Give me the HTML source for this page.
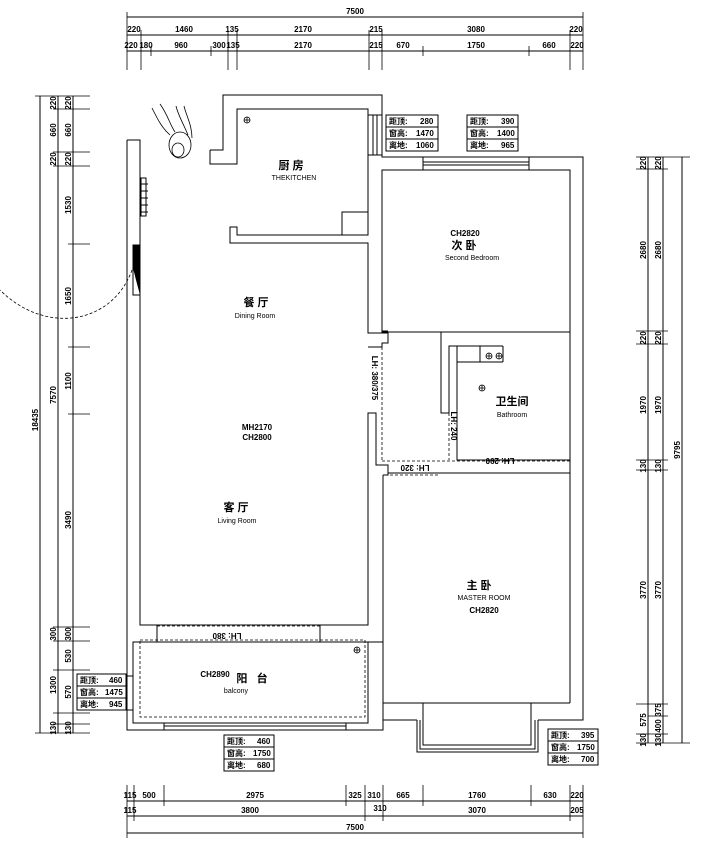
<!DOCTYPE html>
<html><head><meta charset="utf-8"><style>
html,body{margin:0;padding:0;background:#fff;}
svg{display:block;}
text{font-family:"Liberation Sans","Noto Sans CJK SC",sans-serif;fill:#000;}
.d{font-size:8px;font-weight:bold;}
.s{font-size:7px;}
</style></head><body>
<svg width="724" height="857" viewBox="0 0 724 857" xmlns="http://www.w3.org/2000/svg">
<g stroke="#000" stroke-width="1" fill="none">
<!-- top dims -->
<line x1="127" y1="17" x2="583" y2="17"/>
<line x1="127" y1="35" x2="583" y2="35"/>
<line x1="127" y1="51" x2="583" y2="51"/>
<g stroke-width="0.8">
<line x1="127" y1="12" x2="127" y2="70"/><line x1="583" y1="12" x2="583" y2="70"/>
<line x1="141" y1="30" x2="141" y2="70"/><line x1="228" y1="30" x2="228" y2="70"/><line x1="237" y1="30" x2="237" y2="70"/>
<line x1="369" y1="30" x2="369" y2="70"/><line x1="382" y1="30" x2="382" y2="70"/><line x1="570" y1="30" x2="570" y2="70"/>
<line x1="151" y1="46" x2="151" y2="56"/><line x1="211" y1="46" x2="211" y2="56"/><line x1="423" y1="46" x2="423" y2="56"/><line x1="529" y1="46" x2="529" y2="56"/>
</g>
<!-- bottom dims -->
<line x1="127" y1="801" x2="583" y2="801"/>
<line x1="127" y1="816" x2="583" y2="816"/>
<line x1="127" y1="833" x2="583" y2="833"/>
<g stroke-width="0.8">
<line x1="127" y1="785" x2="127" y2="838"/><line x1="583" y1="785" x2="583" y2="838"/>
<line x1="134" y1="785" x2="134" y2="821"/><line x1="365" y1="785" x2="365" y2="821"/><line x1="383" y1="785" x2="383" y2="821"/><line x1="570" y1="785" x2="570" y2="821"/>
<line x1="164" y1="785" x2="164" y2="806"/><line x1="346" y1="785" x2="346" y2="806"/><line x1="423" y1="785" x2="423" y2="806"/><line x1="531" y1="785" x2="531" y2="806"/>
</g>
<!-- left dims -->
<line x1="40" y1="96" x2="40" y2="733"/>
<line x1="58" y1="96" x2="58" y2="733"/>
<line x1="73" y1="96" x2="73" y2="733"/>
<g stroke-width="0.8">
<line x1="35" y1="96" x2="90" y2="96"/><line x1="35" y1="733" x2="90" y2="733"/>
<line x1="53" y1="109" x2="90" y2="109"/><line x1="53" y1="152" x2="90" y2="152"/><line x1="53" y1="166" x2="90" y2="166"/>
<line x1="68" y1="244" x2="90" y2="244"/><line x1="68" y1="347" x2="90" y2="347"/><line x1="68" y1="414" x2="90" y2="414"/>
<line x1="53" y1="627" x2="90" y2="627"/><line x1="53" y1="641" x2="90" y2="641"/><line x1="53" y1="670" x2="90" y2="670"/><line x1="53" y1="713" x2="90" y2="713"/><line x1="53" y1="724" x2="90" y2="724"/>
</g>
<!-- right dims -->
<line x1="648" y1="157" x2="648" y2="743"/>
<line x1="663" y1="157" x2="663" y2="743"/>
<line x1="682" y1="157" x2="682" y2="743"/>
<g stroke-width="0.8">
<line x1="636" y1="157" x2="690" y2="157"/><line x1="636" y1="743" x2="690" y2="743"/>
<line x1="636" y1="169" x2="668" y2="169"/><line x1="636" y1="331" x2="668" y2="331"/><line x1="636" y1="344" x2="668" y2="344"/>
<line x1="636" y1="460" x2="668" y2="460"/><line x1="636" y1="470" x2="668" y2="470"/><line x1="636" y1="704" x2="668" y2="704"/>
<line x1="648" y1="716" x2="668" y2="716"/><line x1="636" y1="734" x2="668" y2="734"/>
</g>

<!-- walls: left outer -->
<polyline points="127,140 127,730 383,730 383,475"/>
<polyline points="127,140 140,140 140,150 140,625 368,625 368,413 376,413 376,465 388,465 388,475 383,475"/>
<!-- kitchen -->
<polyline points="210,150 223,150 223,95 380,95 382,95 382,157 583,157 583,720 570,720"/>
<polyline points="210,150 210,164 237,164 237,109 368,109 368,235 237,235 237,227 230,227 230,243 368,243 368,333 388,333 388,343 382,343 382,347 368,347"/>
<rect x="368" y="115" width="14" height="40"/>
<line x1="373" y1="115" x2="373" y2="155"/><line x1="377" y1="115" x2="377" y2="155"/>
<rect x="342" y="212" width="26" height="23"/>
<!-- second bedroom -->
<polyline points="382,170 382,331 388,331"/>
<rect x="382" y="170" width="188" height="162"/>
<rect x="423" y="157" width="106" height="13"/>
<line x1="423" y1="162" x2="529" y2="162"/><line x1="423" y1="165" x2="529" y2="165"/>
<line x1="570" y1="170" x2="570" y2="703"/>
<!-- bathroom -->
<polyline points="570,332 441,332 441,346 441,413 449,413 449,346 457,346 457,460 570,460"/>
<rect x="457" y="346" width="23" height="16"/>
<line x1="480" y1="346" x2="503" y2="346"/><line x1="503" y1="346" x2="503" y2="362"/><line x1="480" y1="362" x2="503" y2="362"/>
<!-- master -->
<polyline points="383,475 388,475 388,473 570,473"/>
<polyline points="383,475 383,703 570,703"/>
<polyline points="423,703 423,745 531,745 531,703"/>
<polyline points="417,720 417,752 538,752 538,720"/>
<polyline points="420,720 420,749 535,749 535,720"/>
<line x1="383" y1="720" x2="417" y2="720"/><line x1="538" y1="720" x2="570" y2="720"/>
<!-- balcony -->
<polyline points="157,625 157,642"/><polyline points="320,625 320,642"/>
<rect x="133" y="642" width="235" height="81"/>
<line x1="368" y1="642" x2="383" y2="642"/>
<rect x="164" y="723" width="182" height="7"/>
<line x1="164" y1="726" x2="346" y2="726"/>
<rect x="127" y="676" width="6" height="34"/>
<!-- radiator -->
<rect x="141" y="178" width="5" height="38"/>
<line x1="140" y1="184" x2="148" y2="184"/><line x1="140" y1="191" x2="148" y2="191"/><line x1="140" y1="198" x2="148" y2="198"/><line x1="140" y1="205" x2="148" y2="205"/><line x1="140" y1="212" x2="148" y2="212"/>
<!-- door -->
<rect x="133" y="245" width="7" height="50"/>
</g>
<polygon points="133,245 140,245 140,295 136,280 133,268" fill="#000"/>
<!-- dashed -->
<g stroke="#000" stroke-width="0.8" fill="none" stroke-dasharray="3,2">
<path d="M132,270 C112,325 45,335 0,290"/>
<line x1="382" y1="347" x2="382" y2="460"/>
<line x1="382" y1="461" x2="570" y2="461"/>
<line x1="390" y1="475" x2="440" y2="475"/>
<line x1="449" y1="413" x2="449" y2="460"/>
<line x1="457" y1="362" x2="457" y2="460"/>
<rect x="140" y="640" width="225" height="77"/>
<line x1="157" y1="626" x2="320" y2="626"/>
</g>
<!-- fixtures -->
<g stroke="#000" stroke-width="0.8" fill="none">
<circle cx="247" cy="120" r="3"/><line x1="244" y1="120" x2="250" y2="120"/><line x1="247" y1="117" x2="247" y2="123"/>
<circle cx="489" cy="356" r="3"/><line x1="486" y1="356" x2="492" y2="356"/><line x1="489" y1="353" x2="489" y2="359"/>
<circle cx="499" cy="356" r="3"/><line x1="496" y1="356" x2="502" y2="356"/><line x1="499" y1="353" x2="499" y2="359"/>
<circle cx="482" cy="388" r="3"/><line x1="479" y1="388" x2="485" y2="388"/><line x1="482" y1="385" x2="482" y2="391"/>
<circle cx="357" cy="650" r="3"/><line x1="354" y1="650" x2="360" y2="650"/><line x1="357" y1="647" x2="357" y2="653"/>
<!-- person -->
<ellipse cx="180" cy="145" rx="11" ry="13"/>
<ellipse cx="178" cy="150" rx="6" ry="7"/>
<path d="M152,108 C158,120 162,128 170,135"/><path d="M160,104 C168,115 170,125 175,132"/>
<path d="M176,106 C178,115 184,125 188,135"/><path d="M184,106 C186,115 192,125 192,138"/>
</g>
<!-- info boxes -->
<g stroke="#000" stroke-width="1" fill="#fff">
<rect x="386" y="115" width="52" height="36"/><line x1="386" y1="127" x2="438" y2="127"/><line x1="386" y1="139" x2="438" y2="139"/>
<rect x="467" y="115" width="51" height="36"/><line x1="467" y1="127" x2="518" y2="127"/><line x1="467" y1="139" x2="518" y2="139"/>
<rect x="77" y="674" width="49" height="36"/><line x1="77" y1="686" x2="126" y2="686"/><line x1="77" y1="698" x2="126" y2="698"/>
<rect x="224" y="735" width="50" height="36"/><line x1="224" y1="747" x2="274" y2="747"/><line x1="224" y1="759" x2="274" y2="759"/>
<rect x="548" y="729" width="50" height="36"/><line x1="548" y1="741" x2="598" y2="741"/><line x1="548" y1="753" x2="598" y2="753"/>
</g>
<g class="d" font-size="8">
<text x="389" y="124" class="d">距顶: <tspan x="420">280</tspan></text>
<text x="389" y="136" class="d">窗高: <tspan x="416">1470</tspan></text>
<text x="389" y="148" class="d">离地: <tspan x="416">1060</tspan></text>
<text x="470" y="124" class="d">距顶: <tspan x="501">390</tspan></text>
<text x="470" y="136" class="d">窗高: <tspan x="497">1400</tspan></text>
<text x="470" y="148" class="d">离地: <tspan x="501">965</tspan></text>
<text x="80" y="683" class="d">距顶: <tspan x="109">460</tspan></text>
<text x="80" y="695" class="d">窗高: <tspan x="105">1475</tspan></text>
<text x="80" y="707" class="d">离地: <tspan x="109">945</tspan></text>
<text x="227" y="744" class="d">距顶: <tspan x="257">460</tspan></text>
<text x="227" y="756" class="d">窗高: <tspan x="253">1750</tspan></text>
<text x="227" y="768" class="d">离地: <tspan x="257">680</tspan></text>
<text x="551" y="738" class="d">距顶: <tspan x="581">395</tspan></text>
<text x="551" y="750" class="d">窗高: <tspan x="577">1750</tspan></text>
<text x="551" y="762" class="d">离地: <tspan x="581">700</tspan></text>
</g>
<!-- dim texts -->
<g class="d" text-anchor="middle">
<text x="355" y="14">7500</text>
<text x="134" y="32">220</text><text x="184" y="32">1460</text><text x="232" y="32">135</text><text x="303" y="32">2170</text><text x="376" y="32">215</text><text x="476" y="32">3080</text><text x="576" y="32">220</text>
<text x="131" y="48">220</text><text x="146" y="48">180</text><text x="181" y="48">960</text><text x="219" y="48">300</text><text x="233" y="48">135</text><text x="303" y="48">2170</text><text x="376" y="48">215</text><text x="403" y="48">670</text><text x="476" y="48">1750</text><text x="549" y="48">660</text><text x="577" y="48">220</text>
<text x="130" y="798">115</text><text x="149" y="798">500</text><text x="255" y="798">2975</text><text x="355" y="798">325</text><text x="374" y="798">310</text><text x="403" y="798">665</text><text x="477" y="798">1760</text><text x="550" y="798">630</text><text x="577" y="798">220</text>
<text x="130" y="813">115</text><text x="250" y="813">3800</text><text x="380" y="811">310</text><text x="477" y="813">3070</text><text x="577" y="813">205</text>
<text x="355" y="830">7500</text>
</g>
<g class="d" text-anchor="middle">
<text transform="translate(38,420) rotate(-90)">18435</text>
<text transform="translate(56,395) rotate(-90)">7570</text>
<text transform="translate(56,103) rotate(-90)">220</text><text transform="translate(71,103) rotate(-90)">220</text>
<text transform="translate(56,130) rotate(-90)">660</text><text transform="translate(71,130) rotate(-90)">660</text>
<text transform="translate(56,159) rotate(-90)">220</text><text transform="translate(71,159) rotate(-90)">220</text>
<text transform="translate(71,205) rotate(-90)">1530</text>
<text transform="translate(71,296) rotate(-90)">1650</text>
<text transform="translate(71,381) rotate(-90)">1100</text>
<text transform="translate(71,520) rotate(-90)">3490</text>
<text transform="translate(56,634) rotate(-90)">300</text><text transform="translate(71,634) rotate(-90)">300</text>
<text transform="translate(71,656) rotate(-90)">530</text>
<text transform="translate(56,685) rotate(-90)">1300</text>
<text transform="translate(71,692) rotate(-90)">570</text>
<text transform="translate(56,728) rotate(-90)">130</text><text transform="translate(71,728) rotate(-90)">130</text>
<text transform="translate(646,163) rotate(-90)">220</text><text transform="translate(661,163) rotate(-90)">220</text>
<text transform="translate(646,250) rotate(-90)">2680</text><text transform="translate(661,250) rotate(-90)">2680</text>
<text transform="translate(646,338) rotate(-90)">220</text><text transform="translate(661,338) rotate(-90)">220</text>
<text transform="translate(646,405) rotate(-90)">1970</text><text transform="translate(661,405) rotate(-90)">1970</text>
<text transform="translate(646,466) rotate(-90)">130</text><text transform="translate(661,466) rotate(-90)">130</text>
<text transform="translate(646,590) rotate(-90)">3770</text><text transform="translate(661,590) rotate(-90)">3770</text>
<text transform="translate(646,720) rotate(-90)">575</text><text transform="translate(661,710) rotate(-90)">375</text><text transform="translate(661,726) rotate(-90)">400</text>
<text transform="translate(646,740) rotate(-90)">130</text><text transform="translate(661,740) rotate(-90)">130</text>
<text transform="translate(680,450) rotate(-90)">9795</text>
<text transform="translate(372,378) rotate(90)">LH: 380/375</text>
<text transform="translate(451,426) rotate(90)">LH: 240</text>
<text transform="translate(500,458) rotate(180)">LH: 290</text>
<text transform="translate(415,465) rotate(180)">LH: 320</text>
<text transform="translate(227,633) rotate(180)">LH: 380</text>
</g>
<!-- room labels -->
<g text-anchor="middle">
<text x="291" y="169" font-size="11" font-weight="bold">厨 房</text>
<text x="294" y="180" class="s">THEKITCHEN</text>
<text x="465" y="236" class="d" font-size="7">CH2820</text>
<text x="464" y="249" font-size="11" font-weight="bold">次 卧</text>
<text x="472" y="260" class="s">Second Bedroom</text>
<text x="256" y="306" font-size="11" font-weight="bold">餐 厅</text>
<text x="255" y="318" class="s">Dining Room</text>
<text x="257" y="430" class="d" font-size="7">MH2170</text>
<text x="257" y="440" class="d" font-size="7">CH2800</text>
<text x="236" y="511" font-size="11" font-weight="bold">客 厅</text>
<text x="237" y="523" class="s">Living Room</text>
<text x="512" y="405" font-size="11" font-weight="bold">卫生间</text>
<text x="512" y="417" class="s">Bathroom</text>
<text x="479" y="589" font-size="11" font-weight="bold">主 卧</text>
<text x="484" y="600" class="s">MASTER ROOM</text>
<text x="484" y="613" class="d" font-size="7">CH2820</text>
<text x="215" y="677" class="d" font-size="7">CH2890</text>
<text x="252" y="682" font-size="11" font-weight="bold">阳 &#160; 台</text>
<text x="236" y="693" class="s">balcony</text>
</g>
</svg>
</body></html>
